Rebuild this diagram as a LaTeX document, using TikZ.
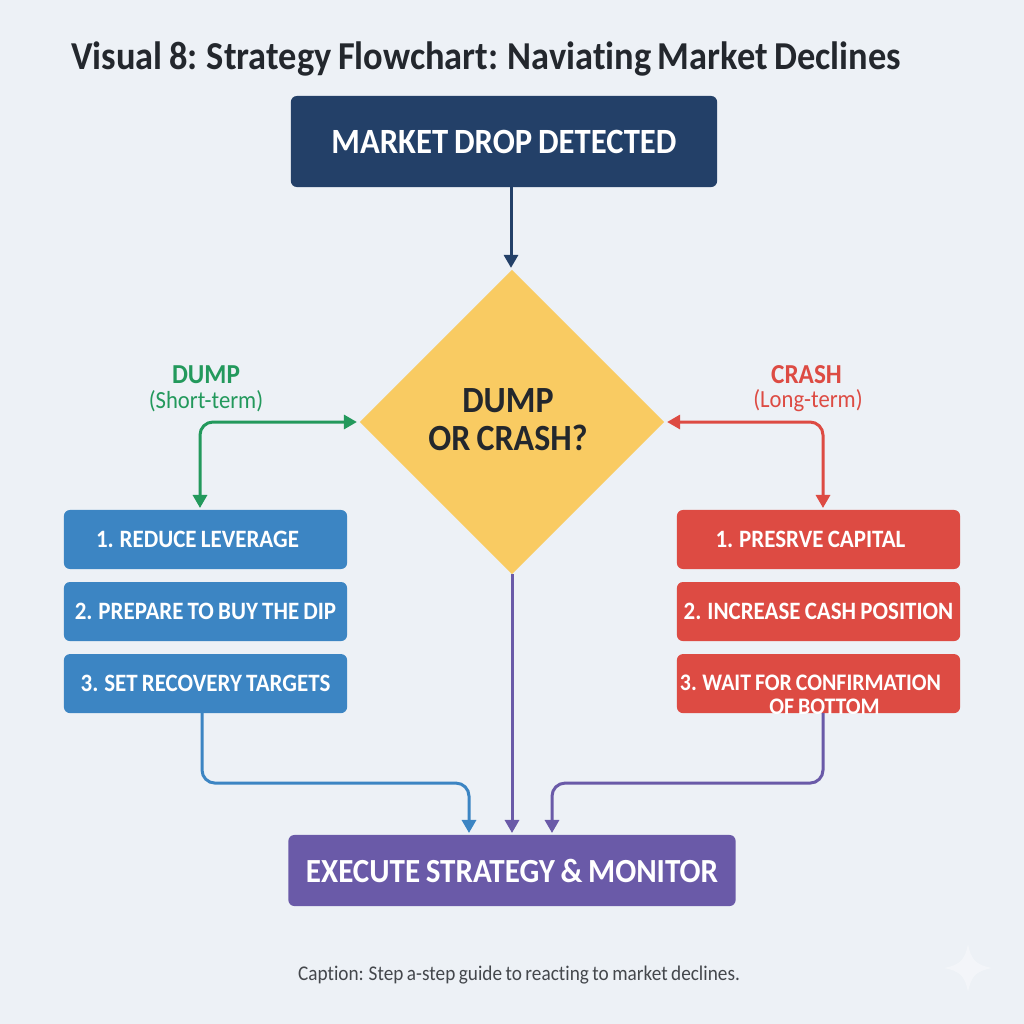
\documentclass[tikz,border=0pt]{standalone}
\usepackage{fontspec}
\setmainfont[FakeStretch=0.92,WordSpace=0.8,Ligatures=NoCommon]{Carlito}
\usepackage{xcolor}
\usetikzlibrary{
  arrows.meta,
  shapes.geometric,
  positioning
}
\definecolor{pagebg}{HTML}{EDF1F6}
\definecolor{navybox}{HTML}{234068}
\definecolor{goldbox}{HTML}{F9CB62}
\definecolor{bluebox}{HTML}{3C85C3}
\definecolor{redbox}{HTML}{DD4B43}
\definecolor{purplebox}{HTML}{6A5AA8}
\definecolor{dumpgreen}{HTML}{23995C}
\definecolor{inkdark}{HTML}{23272D}

\tikzset{
  flowbox/.style={
    rectangle,
    rounded corners=0.06cm,
    inner sep=0pt,
    outer sep=0pt,
    text=white,
    font=\fontsize{10.1pt}{11pt}\selectfont\bfseries
  },
  stepfont/.style={
    font=\fontsize{7.1pt}{8pt}\selectfont\bfseries
  },
  clippedfont/.style={
    text=white,
    font=\fontsize{6.75pt}{8pt}\selectfont\bfseries
  },
  stepbox/.style={
    flowbox,
    stepfont,
    minimum width=2.83cm,
    minimum height=0.59cm
  },
  branchname/.style={
    inner sep=0pt,
    font=\fontsize{7.8pt}{9pt}\selectfont\bfseries
  },
  branchterm/.style={
    inner sep=0pt,
    font=\fontsize{7pt}{8pt}\selectfont
  },
  link/.style={
    line width=0.03cm,
    rounded corners=0.13cm
  }
}

\begin{document}
\begin{tikzpicture}[x=0.01cm,y=-0.01cm,>={Triangle[length=0.13cm,width=0.14cm]}]

\useasboundingbox[fill=pagebg] (0,0) rectangle (1024,1024);

% Title and caption
\node[font=\fontsize{11.25pt}{13pt}\selectfont\bfseries,text=inkdark] (title) at (486,59) {Visual 8: Strategy Flowchart: Naviating Market Declines};
\node[font=\fontsize{5.95pt}{7pt}\selectfont,text=inkdark!85] (caption) at (519,975) {Caption: Step a-step guide to reacting to market declines.};

% Main column
\node[flowbox,fill=navybox,minimum width=4.26cm,minimum height=0.91cm] (detect) at (504,141.5) {MARKET DROP DETECTED};
\node[
    diamond,
    fill=goldbox,
    minimum width=3.04cm,
    minimum height=3.04cm,
    inner sep=0pt,
    outer sep=0pt
] (choice) at (512,422) {};
\node[
    align=center,
    text=inkdark,
    font=\fontsize{10.5pt}{10.8pt}\selectfont\bfseries
] (choicetext) at (508,420) {DUMP\\OR CRASH?};
\node[
    flowbox,
    fill=purplebox,
    minimum width=4.47cm,
    minimum height=0.71cm,
    font=\fontsize{9.6pt}{11pt}\selectfont\bfseries
] (execute) at (512,870.5) {EXECUTE STRATEGY \& MONITOR};

% Left column
\node[stepbox,fill=bluebox] (dumpa) at (205.5,539.5) {1. REDUCE LEVERAGE\hspace*{0.16cm}};
\node[stepbox,fill=bluebox,below=0.13cm of dumpa] (dumpb) {2. PREPARE TO BUY THE DIP};
\node[stepbox,fill=bluebox,below=0.13cm of dumpb] (dumpc) {3. SET RECOVERY TARGETS};

% Right column, the last text runs over the box and is cut off
\node[stepbox,fill=redbox] (crasha) at (818.5,539.5) {1. PRESRVE CAPITAL\hspace*{0.16cm}};
\node[stepbox,fill=redbox,below=0.13cm of crasha] (crashb) {2. INCREASE CASH POSITION};
\node[
    stepbox,
    fill=redbox,
    below=0.13cm of crashb,
    path picture={
      \node[anchor=center,clippedfont] at ([shift={(-8,-1)}]path picture bounding box.center) {3. WAIT FOR CONFIRMATION};
      \node[anchor=center,clippedfont] at ([shift={(6,23)}]path picture bounding box.center) {OF BOTTOM};
    }
] (crashc) {};

% Branch labels
\node[branchname,text=dumpgreen] (dumplabel) at (206,375) {DUMP};
\node[branchterm,text=dumpgreen] (dumpterm) at (206,401) {(Short-term)};
\node[branchname,text=redbox] (crashlabel) at (806.5,375) {CRASH};
\node[branchterm,text=redbox] (crashterm) at (808,401) {(Long-term)};

% Free ends of the connectors
\coordinate (detectout) at (detect.south -| 511,0);
\coordinate (dumpin) at (dumpa.north -| 200,0);
\coordinate (crashin) at (crasha.north -| 823,0);
\coordinate (dumpout) at (dumpc.south -| 202,0);
\coordinate (crashout) at (crashc.south -| 823,0);
\coordinate (bluein) at (execute.north -| 469,0);
\coordinate (purplein) at (execute.north -| 552,0);

% Connectors
\draw[link,->,navybox] (detectout) -- ([yshift=0.02cm]choice.north -| detectout);
\draw[link,<->,dumpgreen] ([yshift=0.02cm]dumpin) |- ([xshift=-0.03cm]choice.west);
\draw[link,<->,redbox] ([yshift=0.02cm]crashin) |- ([xshift=0.03cm]choice.east);
\draw[link,->,purplebox] (choice.south) -- ([yshift=0.02cm]execute.north);
\draw[link,->,bluebox] (dumpout) -- ++(0,70) -| ([yshift=0.02cm]bluein);
\draw[link,->,purplebox] (crashout) -- ++(0,70) -| ([yshift=0.02cm]purplein);

% Faint star in the corner
\fill[white,opacity=0.35] (968,944) .. controls (971,960) and (976,965) .. (992,968) .. controls (976,971) and (971,976) .. (968,992) .. controls (965,976) and (960,971) .. (944,968) .. controls (960,965) and (965,960) .. (968,944) -- cycle;

\end{tikzpicture}
\end{document}
